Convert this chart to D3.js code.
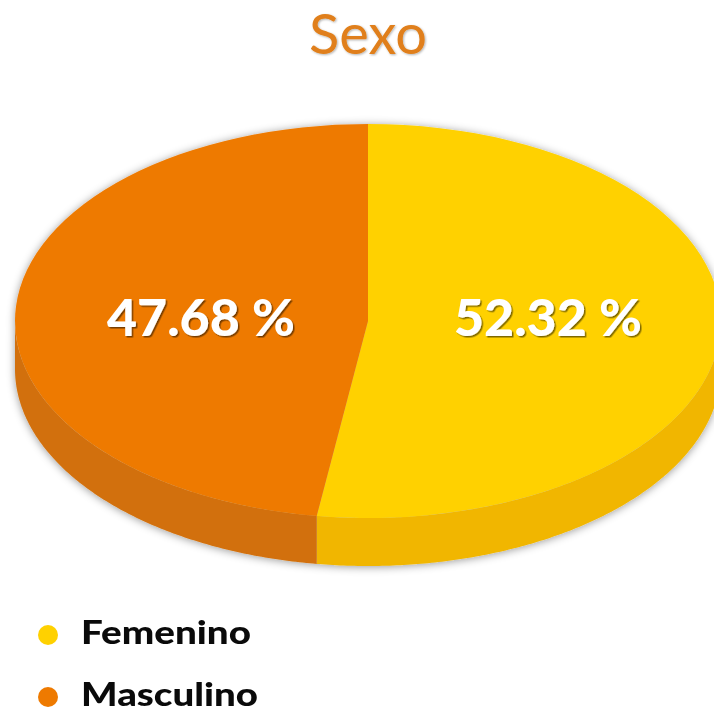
<!DOCTYPE html>
<html>
<head>
<meta charset="utf-8">
<script src="https://cdn.jsdelivr.net/npm/d3@7"></script>
<style>
  html, body { margin: 0; padding: 0; background: #fff; }
  svg { display: block; filter: blur(.4px); }
  text { font-family: Lato, "Open Sans", sans-serif; }
  .title { font-size: 56px; fill: #e07f1a; text-anchor: middle; filter: url(#softShadow); }
  .pct { font-size: 52px; font-weight: 900; fill: #fff; filter: url(#textShadow); }
  .legend-label { font-size: 32px; font-weight: 900; fill: #0a0a0a; }
</style>
</head>
<body>
<svg id="chart" width="714" height="712"></svg>
<script>
const categories = ["Femenino", "Masculino"];
const values = [52.32, 47.68];
const topColors = ["#ffd100", "#ee7a00"];
const sideColors = ["#f1b600", "#d2700a"];
const titleText = "Sexo";

const svg = d3.select("#chart");
const cx = 368,
    cy = 321,
    rx = 353,
    ry = 197,
    depth = 48;

let defs = svg.append("defs");

let pieShadow = defs.append("filter")
    .attr("id", "pieShadow")
    .attr("x", "-10%").attr("y", "-10%")
    .attr("width", "120%").attr("height", "120%");
pieShadow.append("feDropShadow")
    .attr("dx", 0).attr("dy", 1)
    .attr("stdDeviation", 4)
    .attr("flood-color", "#000")
    .attr("flood-opacity", .4);

let softShadow = defs.append("filter").attr("id", "softShadow");
softShadow.append("feDropShadow")
    .attr("dx", 1).attr("dy", 1)
    .attr("stdDeviation", 1)
    .attr("flood-color", "#000")
    .attr("flood-opacity", .3);

let textShadow = defs.append("filter").attr("id", "textShadow");
textShadow.append("feDropShadow")
    .attr("dx", 1.5).attr("dy", 1.5)
    .attr("stdDeviation", .6)
    .attr("flood-color", "#000")
    .attr("flood-opacity", .5);

// title
svg.append("text")
    .attr("class", "title")
    .attr("x", cx)
    .attr("y", 54)
    .text(titleText);

// slices, clockwise from 12 o'clock
let pie = d3.pie().sort(null);
let slices = pie(values);

let pieGroup = svg.append("g").attr("filter", "url(#pieShadow)");

// side wall, only the part of each slice facing the viewer
let wall = d3.area()
    .x(a => cx + rx * Math.sin(a))
    .y0(a => cy - ry * Math.cos(a))
    .y1(a => cy - ry * Math.cos(a) + depth);

pieGroup.selectAll("path.side")
    .data(slices)
    .enter()
    .append("path")
        .attr("class", "side")
        .attr("fill", (d, i) => sideColors[i])
        .attr("d", d => {
            let start = Math.max(d.startAngle, Math.PI / 2),
                end = Math.min(d.endAngle, Math.PI * 3 / 2);
            return wall(d3.range(start, end, .01).concat(end));
        });

// top face: a circular arc flattened into the ellipse
let arc = d3.arc().innerRadius(0).outerRadius(rx);

pieGroup.selectAll("path.top")
    .data(slices)
    .enter()
    .append("path")
        .attr("class", "top")
        .attr("fill", (d, i) => topColors[i])
        .attr("transform", `translate(${cx},${cy}) scale(1,${ry / rx})`)
        .attr("d", arc);

// percentage labels
let labelX = d3.scaleOrdinal().domain(categories).range([454, 107]);

svg.selectAll("text.pct")
    .data(categories)
    .enter()
    .append("text")
        .attr("class", "pct")
        .attr("x", d => labelX(d))
        .attr("y", 336)
        .attr("textLength", 188)
        .attr("lengthAdjust", "spacingAndGlyphs")
        .text((d, i) => `${values[i].toFixed(2)} %`);

// legend
let legendY = d3.scalePoint().domain(categories).range([635, 697]);
let legendWidth = d3.scaleOrdinal().domain(categories).range([170, 177]);

let legend = svg.selectAll("g.legend")
    .data(categories)
    .enter()
    .append("g")
        .attr("class", "legend")
        .attr("transform", d => `translate(48,${legendY(d)})`);

legend.append("circle")
    .attr("r", 10)
    .attr("fill", (d, i) => topColors[i]);

legend.append("text")
    .attr("class", "legend-label")
    .attr("x", 33)
    .attr("y", 9)
    .attr("textLength", d => legendWidth(d))
    .attr("lengthAdjust", "spacingAndGlyphs")
    .text(d => d);
</script>
</body>
</html>
